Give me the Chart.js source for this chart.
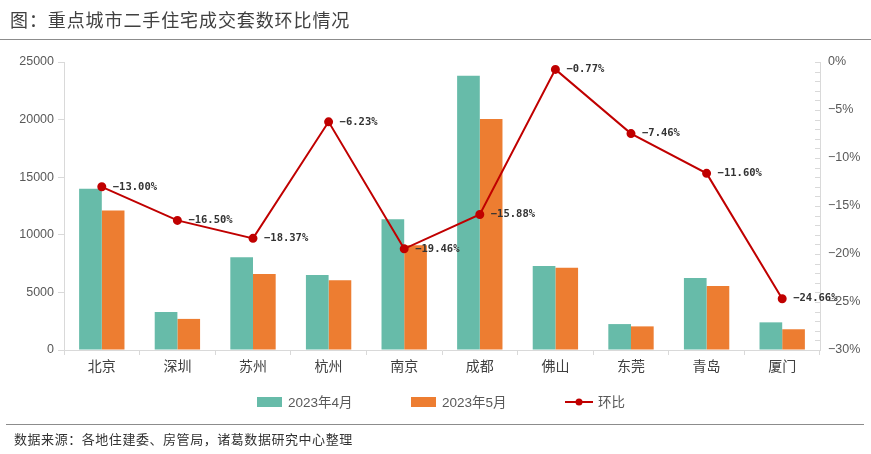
<!DOCTYPE html>
<html>
<head>
<meta charset="utf-8">
<script src="https://cdn.jsdelivr.net/npm/chart.js@4.4.1/dist/chart.umd.min.js"></script>
<style>
  html, body { margin: 0; padding: 0; background: #fff; }
  #wrap { position: relative; width: 871px; height: 454px; overflow: hidden; font-family: "Noto Sans CJK SC", "Noto Sans", sans-serif; }
  #title { position: absolute; left: 10px; top: 6px; font-size: 18px; color: #404040; white-space: nowrap; letter-spacing: 0.9px; }
  #topline { position: absolute; left: 0; top: 39px; width: 871px; height: 0; border-top: 1.5px solid #8c8c8c; }
  #botline { position: absolute; left: 6px; top: 424px; width: 858px; height: 0; border-top: 1.5px solid #8c8c8c; }
  #source { position: absolute; left: 14px; top: 429px; font-size: 13px; color: #333; white-space: nowrap; letter-spacing: 0.55px; }
  canvas { position: absolute; left: 0; top: 0; }
</style>
</head>
<body>
<div id="wrap">
  <canvas id="c" width="871" height="454"></canvas>
  <div id="title">图：重点城市二手住宅成交套数环比情况</div>
  <div id="topline"></div>
  <div id="botline"></div>
  <div id="source">数据来源：各地住建委、房管局，诸葛数据研究中心整理</div>
</div>
<script>
const cities = ['北京', '深圳', '苏州', '杭州', '南京', '成都', '佛山', '东莞', '青岛', '厦门'];
const april = [14000, 3300, 8050, 6500, 11350, 23800, 7300, 2250, 6250, 2400];
const may = [12100, 2700, 6600, 6050, 9100, 20050, 7150, 2050, 5550, 1800];
const momPct = [-13.00, -16.50, -18.37, -6.23, -19.46, -15.88, -0.77, -7.46, -11.60, -24.66];
const seriesNames = ['2023年4月', '2023年5月', '环比'];
const leftTicks = [0, 5000, 10000, 15000, 20000, 25000];
const rightTicks = [-30, -25, -20, -15, -10, -5, 0];

const TEAL = '#67bba9';
const ORANGE = '#ed7d31';
const RED = '#c00000';
const AXIS = '#d9d9d9';
const TXT = '#595959';

function fmtPct(v) {
  return (v < 0 ? '\u2212' : '') + Math.abs(v).toFixed(2) + '%';
}

const overlay = {
  id: 'overlay',
  afterDraw(chart) {
    const ctx = chart.ctx;
    const y1 = chart.scales.y1;
    const area = chart.chartArea;
    ctx.save();
    // right axis minor/major ticks (inward)
    ctx.strokeStyle = AXIS;
    ctx.lineWidth = 1;
    for (let v = y1.min; v <= y1.max; v += 1) {
      const py = Math.round(y1.getPixelForValue(v)) + 0.5;
      ctx.beginPath();
      ctx.moveTo(area.right - 5, py);
      ctx.lineTo(area.right, py);
      ctx.stroke();
    }
    // data labels for line
    const lineIdx = chart.data.datasets.findIndex(d => d.type === 'line');
    const meta = chart.getDatasetMeta(lineIdx);
    ctx.font = 'bold 10.5px "DejaVu Sans Mono", monospace';
    ctx.fillStyle = '#333333';
    ctx.textBaseline = 'middle';
    ctx.textAlign = 'left';
    meta.data.forEach((pt, i) => {
      ctx.fillText(fmtPct(chart.data.datasets[lineIdx].data[i]), pt.x + 11, pt.y);
    });
    // legend
    const ly = 402;
    ctx.font = '13.5px "Liberation Sans", "Noto Sans CJK SC", sans-serif';
    ctx.fillStyle = TXT;
    ctx.textBaseline = 'middle';
    const items = [
      { x: 257, color: TEAL, name: seriesNames[0] },
      { x: 411, color: ORANGE, name: seriesNames[1] }
    ];
    items.forEach(it => {
      ctx.fillStyle = it.color;
      ctx.fillRect(it.x, ly - 5, 25, 10);
      ctx.fillStyle = TXT;
      ctx.fillText(it.name, it.x + 31, ly + 1);
    });
    ctx.strokeStyle = RED;
    ctx.lineWidth = 2;
    ctx.beginPath();
    ctx.moveTo(565, ly);
    ctx.lineTo(593, ly);
    ctx.stroke();
    ctx.fillStyle = RED;
    ctx.beginPath();
    ctx.arc(579, ly, 3.5, 0, Math.PI * 2);
    ctx.fill();
    ctx.fillStyle = TXT;
    ctx.fillText(seriesNames[2], 598, ly + 1);
    ctx.restore();
  }
};

new Chart(document.getElementById('c'), {
  data: {
    labels: cities,
    datasets: [
      {
        type: 'line', label: seriesNames[2], data: momPct, yAxisID: 'y1', order: 0,
        borderColor: RED, backgroundColor: RED, borderWidth: 2,
        pointRadius: 3.5, pointBackgroundColor: RED, pointBorderColor: RED, tension: 0
      },
      {
        type: 'bar', label: seriesNames[0], data: april, yAxisID: 'y', order: 1,
        backgroundColor: TEAL, categoryPercentage: 0.6, barPercentage: 1.0
      },
      {
        type: 'bar', label: seriesNames[1], data: may, yAxisID: 'y', order: 2,
        backgroundColor: ORANGE, categoryPercentage: 0.6, barPercentage: 1.0
      }
    ]
  },
  options: {
    responsive: false,
    animation: false,
    devicePixelRatio: 1,
    layout: { padding: { top: 62, bottom: 74, left: 0, right: 0 } },
    plugins: { legend: { display: false }, tooltip: { enabled: false } },
    scales: {
      x: {
        type: 'category', offset: true,
        grid: { offset: true, drawOnChartArea: false, drawTicks: true, tickLength: 5, color: AXIS },
        border: { color: AXIS },
        ticks: { color: '#404040', font: { size: 14, family: '"Noto Sans CJK SC", sans-serif' }, padding: 2 },
        afterFit(s) { s.height = 30; }
      },
      y: {
        position: 'left', min: 0, max: 25000,
        afterBuildTicks(s) { s.ticks = leftTicks.map(v => ({ value: v })); },
        grid: { drawOnChartArea: false, tickLength: 6, color: AXIS },
        border: { color: AXIS },
        ticks: {
          color: TXT, font: { size: 12.5, family: '"Liberation Sans", Arial, sans-serif' }, padding: 4,
          callback: v => String(v)
        },
        afterFit(s) { s.width = 64; }
      },
      y1: {
        position: 'right', min: -30, max: 0,
        afterBuildTicks(s) { s.ticks = rightTicks.map(v => ({ value: v })); },
        grid: { drawOnChartArea: false, drawTicks: false },
        border: { color: AXIS },
        ticks: {
          color: TXT, font: { size: 12.5, family: '"Liberation Sans", Arial, sans-serif' }, padding: 8,
          callback: v => (v < 0 ? '\u2212' : '') + Math.abs(v) + '%'
        },
        afterFit(s) { s.width = 51; }
      }
    }
  },
  plugins: [overlay]
});
</script>
</body>
</html>
